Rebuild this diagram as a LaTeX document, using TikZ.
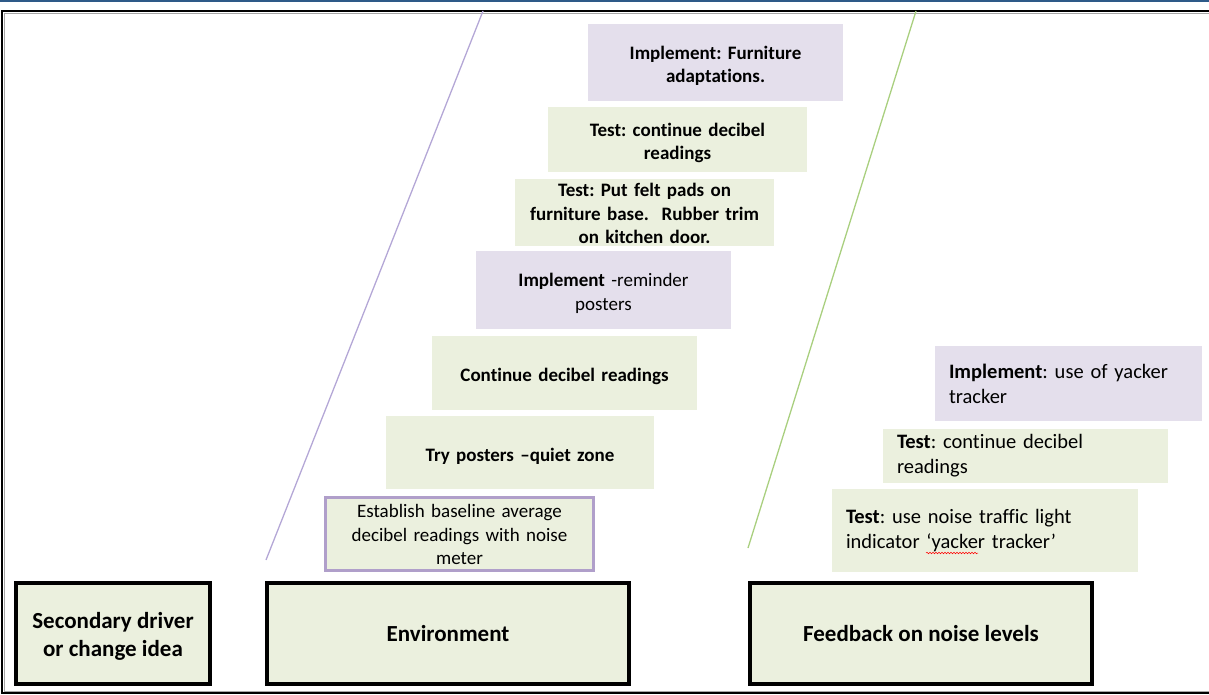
\documentclass[tikz,border=0pt]{standalone}
\usepackage{fontspec}
\setmainfont[Ligatures=NoCommon]{Carlito}
\usetikzlibrary{decorations.pathmorphing}
\definecolor{pfill}{HTML}{E4DFEC}
\definecolor{gfill}{HTML}{EBF0DE}
\definecolor{pline}{HTML}{B4A7D6}
\definecolor{gline}{HTML}{A9CF7F}
\definecolor{topblue}{HTML}{2E5A88}
\definecolor{pborder}{HTML}{B09FCA}
\newcommand{\dropstrut}{\rule{0pt}{20pt}}
\tikzset{
  card/.style={inner sep=0pt, outer sep=0pt, align=center, font=\fontsize{19}{23.5}\selectfont},
  gcard/.style={card, fill=gfill},
  pcard/.style={card, fill=pfill},
  lcard/.style={inner xsep=14pt, inner ysep=0pt, outer sep=0pt, align=left, font=\fontsize{20.5}{25}\selectfont},
  driver/.style={draw=black, line width=3.5pt, fill=gfill, align=center, inner sep=0pt, font=\bfseries\fontsize{23}{28}\selectfont, minimum height=101pt},
}
\begin{document}
\frenchspacing
\begin{tikzpicture}[x=1pt,y=-1pt]
\useasboundingbox (0,0) rectangle (1209,695);
% frame
\draw[topblue, line width=2pt] (0,1) -- (1209,1);
\draw[black, line width=1.6pt] (1212,11) -- (2,11) -- (2,693) -- (1212,693);
\draw[gray!70, line width=0.6pt] (1212,13) -- (4,13) -- (4,691) -- (1212,691);
% diagonal lines
\coordinate (pl1) at (483,11); \coordinate (pl2) at (266,560);
\coordinate (gl1) at (916,11); \coordinate (gl2) at (748,548);
\draw[pline, line width=1.3pt] (pl1) -- (pl2);
\draw[gline, line width=1.3pt] (gl1) -- (gl2);
% environment column
\node[pcard, minimum width=255pt, minimum height=77pt, text width=255pt] (n1) at (715.5,62.5) {\dropstrut\bfseries Implement: Furniture\\ \bfseries adaptations.};
\node[gcard, minimum width=259pt, minimum height=65pt, text width=259pt] (n2) at (677.5,139.5) {\dropstrut\bfseries Test: continue decibel\\ \bfseries readings};
\node[gcard, minimum width=259pt, minimum height=67pt, text width=259pt] (n3) at (644.5,212.5) {\rule{0pt}{16pt}\bfseries Test: Put felt pads on\\ \bfseries furniture base.\ \ Rubber trim\\ \bfseries on kitchen door.};
\node[pcard, minimum width=255pt, minimum height=78pt, text width=255pt] (n4) at (603.5,290) {\dropstrut\textbf{Implement} -reminder\\ posters};
\node[gcard, minimum width=265pt, minimum height=74pt, text width=265pt] (n5) at (564.5,373) {\dropstrut\bfseries Continue decibel readings};
\node[gcard, draw=none, minimum width=268pt, minimum height=73pt, text width=268pt] (n6) at (520,452.5) {\dropstrut\bfseries Try posters --quiet zone};
\node[gcard, draw=pborder, line width=2.5pt, minimum width=268pt, minimum height=73pt, text width=268pt] (n7) at (459.5,534) {\rule{0pt}{15pt}Establish baseline average\\ decibel readings with noise\\ meter};
% feedback column
\node[lcard, fill=pfill, minimum width=267pt, minimum height=75pt, text width=239pt] (m1) at (1068.5,383.5) {\textbf{Implement}: use of yacker\\ tracker};
\node[lcard, fill=gfill, minimum width=285pt, minimum height=54pt, text width=257pt] (m2) at (1025.5,456) {\textbf{Test}: continue decibel\\ readings};
\node[lcard, fill=gfill, minimum width=306pt, minimum height=83pt, text width=278pt] (m3) at (985,530.5) {\textbf{Test}: use noise traffic light\\ indicator `yacker tracker'};
\coordinate (w1) at (926,553); \coordinate (w2) at (978,553);
\draw[red, line width=0.5pt, decorate, decoration={snake, amplitude=0.8pt, segment length=3pt}] (w1) -- (w2);
% drivers
\node[driver, minimum width=194pt] (d1) at (113,633.5) {\rule{0pt}{21pt}Secondary driver\\ or change idea};
\node[driver, minimum width=362pt] (d2) at (448,633.5) {Environment};
\node[driver, minimum width=342pt] (d3) at (921,633.5) {Feedback on noise levels};
\end{tikzpicture}
\end{document}
